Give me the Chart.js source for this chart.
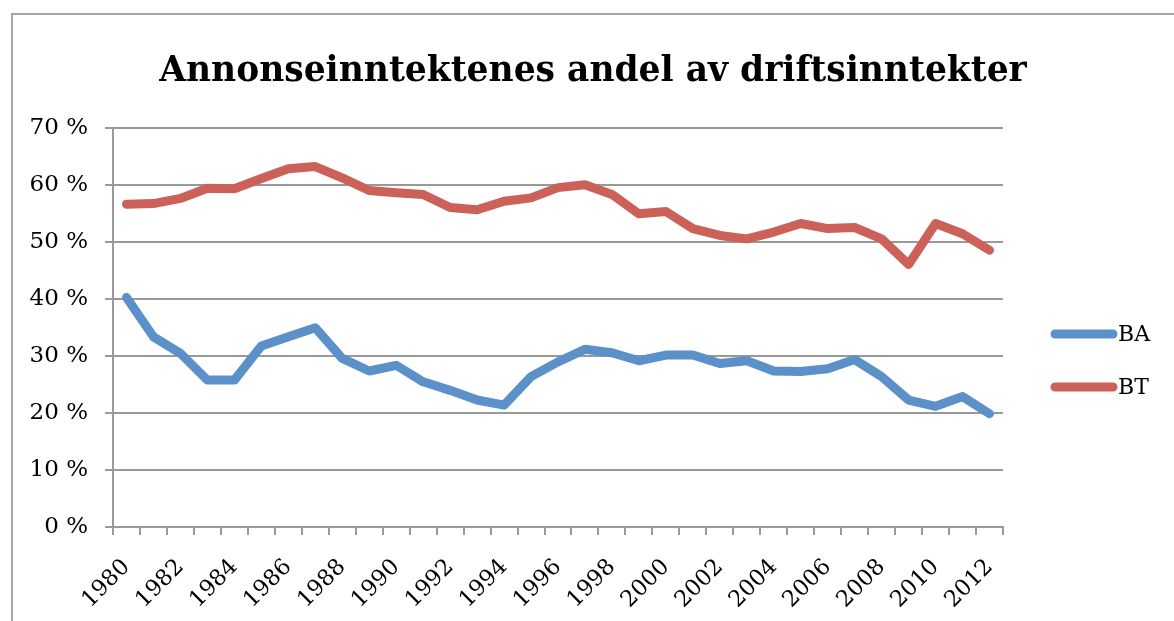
<!DOCTYPE html>
<html>
<head>
<meta charset="utf-8">
<script src="https://cdn.jsdelivr.net/npm/chart.js@4/dist/chart.umd.min.js"></script>
<style>
  body { margin: 0; background: #fff; overflow: hidden; }
  #wrap { position: relative; width: 1174px; height: 621px; }
  #frame { position: absolute; left: 11px; top: 13px; width: 1250px; height: 700px; border: 2px solid #a6a6a6; }
  #box { position: absolute; left: 0; top: 0; width: 1174px; height: 621px; }
</style>
</head>
<body>
<div id="wrap">
  <div id="frame"></div>
  <div id="box"><canvas id="chart"></canvas></div>
</div>
<script>
const years = ['1980','1981','1982','1983','1984','1985','1986','1987','1988','1989','1990',
  '1991','1992','1993','1994','1995','1996','1997','1998','1999','2000','2001','2002','2003',
  '2004','2005','2006','2007','2008','2009','2010','2011','2012'];
const ba = [40.3, 33.4, 30.5, 25.8, 25.8, 31.8, 33.4, 35.0, 29.6, 27.4, 28.4, 25.5, 24.0, 22.3, 21.4, 26.4, 29.0,
  31.2, 30.6, 29.2, 30.2, 30.2, 28.7, 29.2, 27.4, 27.3, 27.8, 29.4, 26.4, 22.3, 21.2, 22.9, 19.9];
const bt = [56.7, 56.8, 57.7, 59.5, 59.4, 61.2, 62.9, 63.3, 61.3, 59.1, 58.7, 58.4, 56.1, 55.7, 57.2, 57.8, 59.6,
  60.1, 58.4, 55.0, 55.4, 52.4, 51.2, 50.6, 51.8, 53.3, 52.4, 52.6, 50.6, 46.1, 53.3, 51.5, 48.6];
const yMax = 70;
const yStep = 10;

const serif = "'DejaVu Serif', 'Liberation Serif', serif";
const gridGray = '#999999';

function lineSet(label, data, color) {
  return {
    label: label,
    data: data,
    borderColor: color,
    backgroundColor: color,
    borderWidth: 9,
    borderCapStyle: 'round',
    borderJoinStyle: 'round',
    pointRadius: 0,
    pointHoverRadius: 0,
    tension: 0,
    fill: false
  };
}

// legend at the right, line then label, like the spreadsheet one
const sideLegend = {
  id: 'sideLegend',
  afterDraw(chart) {
    const ctx = chart.ctx;
    const x0 = chart.chartArea.right + 52;
    let y = 334;
    ctx.save();
    ctx.font = '22px ' + serif;
    ctx.textBaseline = 'middle';
    chart.data.datasets.forEach(ds => {
      ctx.strokeStyle = ds.borderColor;
      ctx.lineWidth = 9;
      ctx.lineCap = 'round';
      ctx.beginPath();
      ctx.moveTo(x0, y);
      ctx.lineTo(x0 + 58, y);
      ctx.stroke();
      ctx.fillStyle = '#000';
      ctx.fillText(ds.label, x0 + 63, y + 1);
      y += 53;
    });
    ctx.restore();
  }
};

new Chart(document.getElementById('chart'), {
  type: 'line',
  data: {
    labels: years,
    datasets: [
      lineSet('BA', ba, '#5b90c8'),
      lineSet('BT', bt, '#cc615a')
    ]
  },
  options: {
    responsive: true,
    maintainAspectRatio: false,
    animation: false,
    layout: { padding: { left: 30, right: 18, top: 0, bottom: 0 } },
    plugins: {
      title: {
        display: true,
        text: 'Annonseinntektenes andel av driftsinntekter',
        color: '#000',
        font: { family: serif, size: 34.5, weight: 'bold' },
        padding: { top: 51, bottom: 36 }
      },
      legend: { display: false },
      tooltip: { enabled: false }
    },
    scales: {
      x: {
        offset: true,
        border: { color: gridGray, width: 2 },
        grid: { offset: true, drawOnChartArea: false, drawTicks: true, tickLength: 8, color: gridGray, lineWidth: 2 },
        ticks: {
          autoSkip: false,
          minRotation: 45,
          maxRotation: 45,
          color: '#000',
          font: { family: serif, size: 22.5 },
          padding: 19,
          callback: function (v, i) { return i % 2 === 0 ? years[i] : ''; }
        },
        afterFit: function (s) { s.height = 94; }
      },
      y: {
        min: 0,
        max: yMax,
        border: { color: gridGray, width: 2 },
        grid: { color: gridGray, lineWidth: 2, tickLength: 8 },
        ticks: {
          stepSize: yStep,
          color: '#000',
          font: { family: serif, size: 23 },
          padding: 17,
          callback: function (v) { return v + ' %'; }
        },
        afterFit: function (s) { s.width = 83; }
      },
      // empty right-hand axis that only keeps room for the legend
      legendRoom: {
        type: 'linear',
        position: 'right',
        display: true,
        grid: { display: false },
        border: { display: false },
        ticks: { display: false },
        afterFit: function (s) { s.width = 153; }
      }
    }
  },
  plugins: [sideLegend]
});
</script>
</body>
</html>
